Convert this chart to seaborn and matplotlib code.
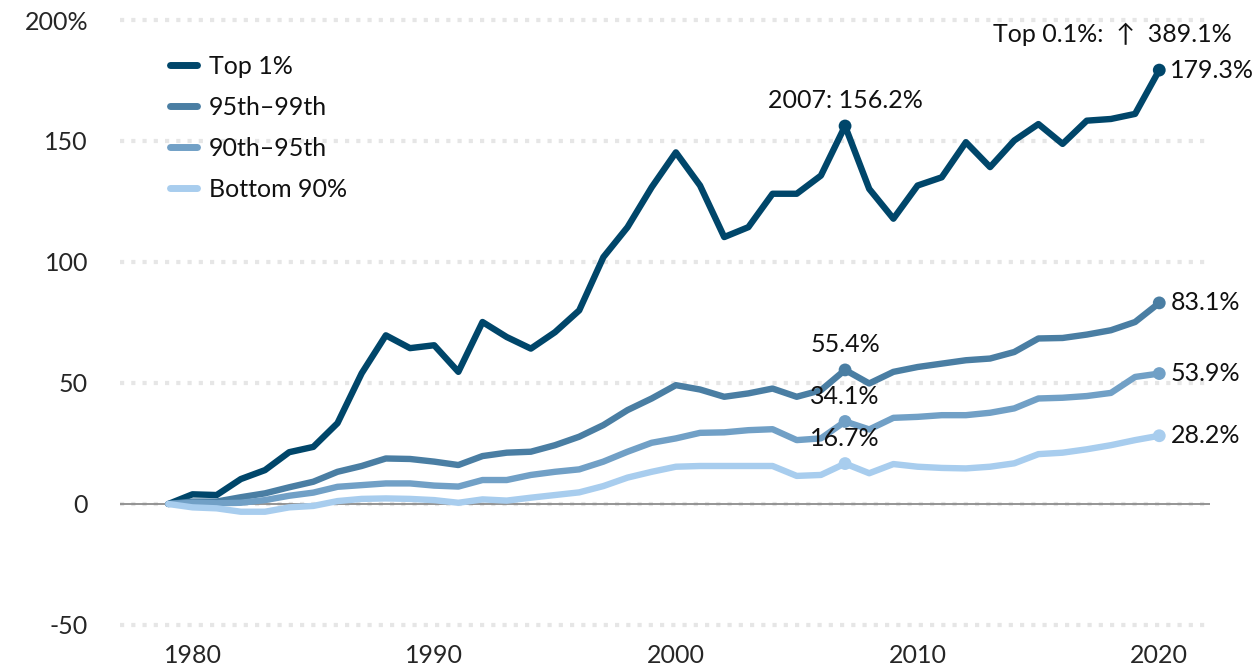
import pandas as pd
import numpy as np
import seaborn as sns
import matplotlib.pyplot as plt
from matplotlib.lines import Line2D

# data (cumulative % change since 1979)
years = list(range(1979, 2021))
top_1 = [0, 4.0, 3.7, 10.3, 14.0, 21.4, 23.6, 33.4, 54.0, 69.7, 64.4, 65.6, 54.6, 75.2,
         69.0, 64.2, 71.0, 80.0, 102.0, 114.4, 130.9, 145.3, 131.6, 110.3, 114.4, 128.2,
         128.2, 135.7, 156.2, 130.2, 117.9, 131.6, 135.0, 149.5, 139.2, 150.2, 157.0,
         148.8, 158.4, 159.1, 161.2, 179.3]
p95_99 = [0, 1.0, 1.0, 2.8, 4.4, 6.9, 9.2, 13.3, 15.7, 18.8, 18.6, 17.5, 16.1, 19.8,
          21.2, 21.6, 24.3, 27.8, 32.6, 38.8, 43.6, 49.1, 47.3, 44.3, 45.7, 47.7, 44.3,
          47.0, 55.4, 49.8, 54.6, 56.6, 58.0, 59.4, 60.1, 62.8, 68.4, 68.6, 70.0, 71.8,
          75.2, 83.1]
p90_95 = [0, 0.5, 0.3, 0.5, 1.6, 3.4, 4.7, 7.1, 7.8, 8.5, 8.5, 7.6, 7.2, 9.9, 9.9, 12.0,
          13.3, 14.3, 17.5, 21.6, 25.3, 27.1, 29.4, 29.6, 30.5, 30.9, 26.4, 27.1, 34.1,
          30.8, 35.6, 36.0, 36.7, 36.7, 37.7, 39.5, 43.6, 43.9, 44.6, 45.9, 52.5, 53.9]
bottom_90 = [0, -1.4, -1.8, -3.2, -3.2, -1.4, -0.8, 1.2, 2.1, 2.3, 2.1, 1.6, 0.5, 1.9,
             1.4, 2.6, 3.7, 4.8, 7.4, 10.9, 13.3, 15.4, 15.7, 15.7, 15.7, 15.7, 11.6,
             12.0, 16.7, 12.7, 16.5, 15.4, 14.9, 14.7, 15.4, 16.8, 20.6, 21.2, 22.6,
             24.3, 26.4, 28.2]

groups = ['Top 1%', '95th\u201399th', '90th\u201395th', 'Bottom 90%']
colors = ['#00466a', '#4a7ea3', '#71a0c6', '#a8cdee']
y_ticks = [-50, 0, 50, 100, 150, 200]
y_tick_labels = ['-50', '0', '50', '100', '150', '200%']
x_ticks = [1980, 1990, 2000, 2010, 2020]
top01_note = 'Top 0.1%:  \u2191  389.1%'

df = pd.DataFrame({
    'year': years * 4,
    'value': top_1 + p95_99 + p90_95 + bottom_90,
    'group': np.repeat(groups, len(years)),
})

sns.set_style('white')
plt.rcParams['font.family'] = ['Lato', 'DejaVu Sans']
plt.rcParams['text.color'] = '#111111'
FS = 18

fig = plt.figure(figsize=(12.59, 6.69), dpi=100)
ax = fig.add_axes([0.0953, 0.0658, 0.8658, 0.9043])

# dotted grid
for yv in y_ticks:
    ax.axhline(yv, color='#e6e6e6', lw=3, ls=(0, (1, 1.7)), clip_on=False, zorder=0)
ax.axhline(0, color='#8c8c8c', lw=1.3, zorder=1)

palette = dict(zip(groups, colors))
sns.lineplot(data=df, x='year', y='value', hue='group', hue_order=groups,
             palette=palette, linewidth=4.6, legend=False, ax=ax, zorder=3)

# dots at 2007 and 2020
dots = df[df['year'].isin([2007, 2020])]
sns.scatterplot(data=dots, x='year', y='value', hue='group', hue_order=groups,
                palette=palette, s=85, edgecolor='none', legend=False, ax=ax, zorder=4)

ax.set_xlim(1977, 2022.1)
ax.set_ylim(-50, 200)
ax.set_xticks(x_ticks)
ax.set_yticks(y_ticks)
ax.set_yticklabels(y_tick_labels)
ax.set_xlabel('')
ax.set_ylabel('')
for s in ax.spines.values():
    s.set_visible(False)
ax.tick_params(axis='x', length=9.5, width=1, color='#aaaaaa', pad=4, labelsize=FS)
ax.tick_params(axis='y', length=0, pad=23, labelsize=FS)

# end labels
ends = dots[dots['year'] == 2020]
for _, r in ends.iterrows():
    ax.annotate(f"{r['value']:.1f}%", (r['year'], r['value']), xytext=(8, 0),
                textcoords='offset points', ha='left', va='center', fontsize=FS,
                annotation_clip=False)

# 2007 labels
peaks = dots[dots['year'] == 2007]
for _, r in peaks.iterrows():
    label = f"{r['value']:.1f}%"
    if r['group'] == 'Top 1%':
        label = '2007: ' + label
    ax.annotate(label, (r['year'], r['value']), xytext=(0, 18),
                textcoords='offset points', ha='center', va='center', fontsize=FS)

ax.annotate(top01_note, (2020, 179.3), xytext=(52, 26), textcoords='offset points',
            ha='right', va='center', fontsize=FS, annotation_clip=False)

handles = [Line2D([0], [0], color=c, lw=5) for c in colors]
ax.legend(handles, groups, loc='upper left', bbox_to_anchor=(0.025, 0.98),
          frameon=False, fontsize=FS, handlelength=1.08, handletextpad=0.48,
          labelspacing=0.72)

plt.savefig('out.png', dpi=100)
